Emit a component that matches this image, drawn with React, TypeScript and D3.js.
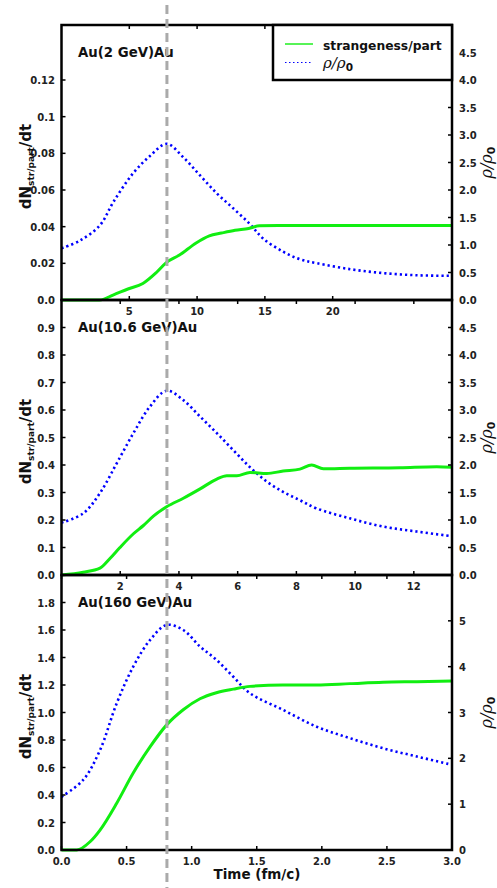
import React from "react";
import * as d3 from "d3";

// ---------- data ----------
// Panel 1: Au(2 GeV)Au
const topStrT = [0, 2.8, 3.8, 4.9, 6.0, 7.0, 7.75, 8.7, 9.9, 10.9, 11.8, 12.8, 13.8, 14.6, 16, 20, 24, 28.8];
const topStr = [0, 0, 0.0027, 0.006, 0.009, 0.015, 0.0205, 0.0245, 0.031, 0.035, 0.0365, 0.038, 0.039, 0.0405, 0.0407, 0.0407, 0.0407, 0.0407];
const topRhoT = [0, 1.36, 2.84, 3.82, 5.27, 6.53, 7.76, 8.96, 10.2, 11.45, 12.65, 13.9, 14.86, 16.33, 17.6, 18.82, 21.3, 23.7, 26.2, 28.65];
const topRho = [0.94, 1.08, 1.36, 1.78, 2.3, 2.62, 2.84, 2.6, 2.27, 1.94, 1.67, 1.38, 1.12, 0.88, 0.74, 0.67, 0.56, 0.49, 0.45, 0.44];

// Panel 2: Au(10.6 GeV)Au
const midStrT = [0, 0.74, 1.31, 1.65, 1.99, 2.45, 2.79, 3.13, 3.58, 4.15, 4.72, 5.29, 5.63, 5.97, 6.42, 6.99, 7.55, 8.12, 8.52, 8.92, 9.82, 11.53, 12.78, 13.3];
const midStr = [0, 0.01, 0.025, 0.06, 0.1, 0.15, 0.18, 0.214, 0.248, 0.279, 0.313, 0.349, 0.361, 0.361, 0.373, 0.369, 0.378, 0.385, 0.4, 0.386, 0.388, 0.39, 0.394, 0.392];
const midRhoT = [0, 0.74, 1.31, 1.88, 2.45, 3.01, 3.58, 4.15, 4.72, 5.29, 5.85, 6.42, 6.99, 7.55, 8.12, 8.69, 9.82, 10.96, 12.1, 13.23];
const midRho = [0.95, 1.12, 1.49, 2.03, 2.58, 3.06, 3.35, 3.18, 2.88, 2.58, 2.27, 1.96, 1.7, 1.51, 1.36, 1.21, 1.03, 0.88, 0.79, 0.71];

// Panel 3: Au(160 GeV)Au
const botStrT = [0, 0.117, 0.219, 0.296, 0.424, 0.551, 0.68, 0.808, 0.935, 1.064, 1.19, 1.32, 1.448, 1.7, 1.96, 2.216, 2.47, 2.73, 3.0];
const botStr = [0, 0, 0.06, 0.145, 0.34, 0.56, 0.75, 0.91, 1.02, 1.1, 1.144, 1.17, 1.19, 1.2, 1.2, 1.21, 1.22, 1.224, 1.229];
const botRhoT = [0, 0.167, 0.296, 0.424, 0.551, 0.68, 0.808, 0.935, 1.064, 1.19, 1.32, 1.448, 1.7, 1.96, 2.216, 2.47, 2.73, 3.0];
const botRho = [1.16, 1.53, 2.18, 3.2, 4.0, 4.58, 4.91, 4.8, 4.44, 4.15, 3.78, 3.42, 3.06, 2.69, 2.44, 2.22, 2.04, 1.86];

// titles & ticks
const titles = ["Au(2 GeV)Au", "Au(10.6 GeV)Au", "Au(160 GeV)Au"];
const xDomains = [[0, 28.8], [0, 13.3], [0, 3.0]];
const xTicks = [[5, 10, 15, 20], [2, 4, 6, 8, 10, 12], [0, 0.5, 1.0, 1.5, 2.0, 2.5, 3.0]];
const xTickLabels = [["5", "10", "15", "20"], ["2", "4", "6", "8", "10", "12"], ["0.0", "0.5", "1.0", "1.5", "2.0", "2.5", "3.0"]];
const leftDomains = [[0, 0.15], [0, 1.0], [0, 2.0]];
const leftTicks = [[0, 0.02, 0.04, 0.06, 0.08, 0.1, 0.12], [0, 0.1, 0.2, 0.3, 0.4, 0.5, 0.6, 0.7, 0.8, 0.9], [0, 0.2, 0.4, 0.6, 0.8, 1.0, 1.2, 1.4, 1.6, 1.8]];
const leftTickLabels = [["0.0", "0.02", "0.04", "0.06", "0.08", "0.1", "0.12"], ["0.0", "0.1", "0.2", "0.3", "0.4", "0.5", "0.6", "0.7", "0.8", "0.9"], ["0.0", "0.2", "0.4", "0.6", "0.8", "1.0", "1.2", "1.4", "1.6", "1.8"]];
const rightDomains = [[0, 5], [0, 5], [0, 6]];
const rightTicks = [[0, 0.5, 1, 1.5, 2, 2.5, 3, 3.5, 4, 4.5], [0, 0.5, 1, 1.5, 2, 2.5, 3, 3.5, 4, 4.5], [0, 1, 2, 3, 4, 5]];
const rightTickLabels = [["0.0", "0.5", "1.0", "1.5", "2.0", "2.5", "3.0", "3.5", "4.0", "4.5"], ["0.0", "0.5", "1.0", "1.5", "2.0", "2.5", "3.0", "3.5", "4.0", "4.5"], ["0", "1", "2", "3", "4", "5"]];
const strSeries = [[topStrT, topStr], [midStrT, midStr], [botStrT, botStr]];
const rhoSeries = [[topRhoT, topRho], [midRhoT, midRho], [botRhoT, botRho]];
const markerTime = 0.81; // fm/c, in panel 3 time units
const legendLabels = ["strangeness/part", "ρ/ρ"];

// ---------- layout ----------
const W = 497, H = 888;
const L = 61.5, R = 452;
const panelTops = [25, 300, 575];
const PH = 275;
const GREEN = "#11ee11";
const BLUE = "#0000ff";
const FONT = "DejaVu Sans, sans-serif";
const TICK_FS = 10;

export default function App() {
  return (
    <svg width={W} height={H} style={{ position: "absolute", left: 0, top: 0, background: "#fff" }} fontFamily={FONT}>
      <rect x={0} y={0} width={W} height={H} fill="#fff" />
      {panelTops.map((top, i) => {
        const x = d3.scaleLinear().domain(xDomains[i]).range([L, R]);
        const yl = d3.scaleLinear().domain(leftDomains[i]).range([top + PH, top]);
        const yr = d3.scaleLinear().domain(rightDomains[i]).range([top + PH, top]);
        const [st, sv] = strSeries[i];
        const [rt, rv] = rhoSeries[i];
        const strLine = d3.line<number>().x((_, k) => x(st[k])).y((v) => yl(v)).curve(d3.curveMonotoneX);
        const rhoLine = d3.line<number>().x((_, k) => x(rt[k])).y((v) => yr(v)).curve(d3.curveCatmullRom.alpha(0.5));
        const bottom = top + PH;
        const cy = top + PH / 2;
        return (
          <g key={i}>
            <path d={rhoLine(rv) || ""} fill="none" stroke={BLUE} strokeWidth={2.6} strokeDasharray="2.2 3" />
            <path d={strLine(sv) || ""} fill="none" stroke={GREEN} strokeWidth={3} strokeLinejoin="round" />
            {/* frame */}
            <rect x={L} y={top} width={R - L} height={PH} fill="none" stroke="#000" strokeWidth={2.5} />
            {/* x ticks */}
            {xTicks[i].map((t, k) => (
              <g key={"x" + k}>
                <line x1={x(t)} x2={x(t)} y1={bottom} y2={bottom - 4} stroke="#000" strokeWidth={1.5} />
                <line x1={x(t)} x2={x(t)} y1={top} y2={top + 4} stroke="#000" strokeWidth={1.5} />
                <text x={x(t)} y={bottom + 15} textAnchor="middle" fontSize={TICK_FS} fontWeight="bold" fill="#222">{xTickLabels[i][k]}</text>
              </g>
            ))}
            {/* left ticks */}
            {leftTicks[i].map((t, k) => (
              <g key={"l" + k}>
                <line x1={L} x2={L + 4} y1={yl(t)} y2={yl(t)} stroke="#000" strokeWidth={1.5} />
                <text x={55} y={yl(t) + 4} textAnchor="end" fontSize={TICK_FS} fontWeight="bold" fill="#222">{leftTickLabels[i][k]}</text>
              </g>
            ))}
            {/* right ticks */}
            {rightTicks[i].map((t, k) => (
              <g key={"r" + k}>
                <line x1={R} x2={R - 4} y1={yr(t)} y2={yr(t)} stroke="#000" strokeWidth={1.5} />
                <text x={459} y={yr(t) + 4} textAnchor="start" fontSize={TICK_FS} fontWeight="bold" fill="#222">{rightTickLabels[i][k]}</text>
              </g>
            ))}
            {/* title */}
            <text x={78} y={top + 32} fontSize={13.3} fontWeight="bold" fill="#111">{titles[i]}</text>
            {/* left label */}
            <text transform={`translate(31,${cy + 4}) rotate(-90)`} textAnchor="middle" fontSize={15} fontWeight="bold" fill="#111">
              dN<tspan fontSize={9} dy={3}>str/part</tspan><tspan dy={-3}>/dt</tspan>
            </text>
            {/* right label */}
            <text transform={`translate(492,${cy}) rotate(-90)`} textAnchor="middle" fontSize={16} fill="#111">
              <tspan fontFamily="DejaVu Serif, serif" fontStyle="italic">ρ/ρ</tspan><tspan fontSize={11} dy={3} fontWeight="bold">0</tspan>
            </text>
          </g>
        );
      })}
      {/* legend */}
      <g>
        <rect x={273} y={25} width={179} height={55} fill="#fff" stroke="#000" strokeWidth={2.5} />
        <line x1={285} x2={313} y1={44} y2={44} stroke={GREEN} strokeWidth={2} opacity={0.7} />
        <text x={323} y={49.5} fontSize={12.3} fontWeight="bold" fill="#111">{legendLabels[0]}</text>
        <line x1={285} x2={313} y1={62.5} y2={62.5} stroke={BLUE} strokeWidth={1.2} strokeDasharray="1.5 2.5" />
        <text x={323} y={68} fontSize={15} fill="#111">
          <tspan fontFamily="DejaVu Serif, serif" fontStyle="italic">{legendLabels[1]}</tspan><tspan fontSize={10.5} dy={3} fontWeight="bold">0</tspan>
        </text>
      </g>
      {/* marker line */}
      {(() => {
        const xb = d3.scaleLinear().domain(xDomains[2]).range([L, R]);
        return <line x1={xb(markerTime)} x2={xb(markerTime)} y1={5} y2={H} stroke="#aaaaaa" strokeWidth={3} strokeDasharray="9 5" />;
      })()}
      <text x={257} y={879} textAnchor="middle" fontSize={13.5} fontWeight="bold" fill="#111">Time (fm/c)</text>
    </svg>
  );
}
